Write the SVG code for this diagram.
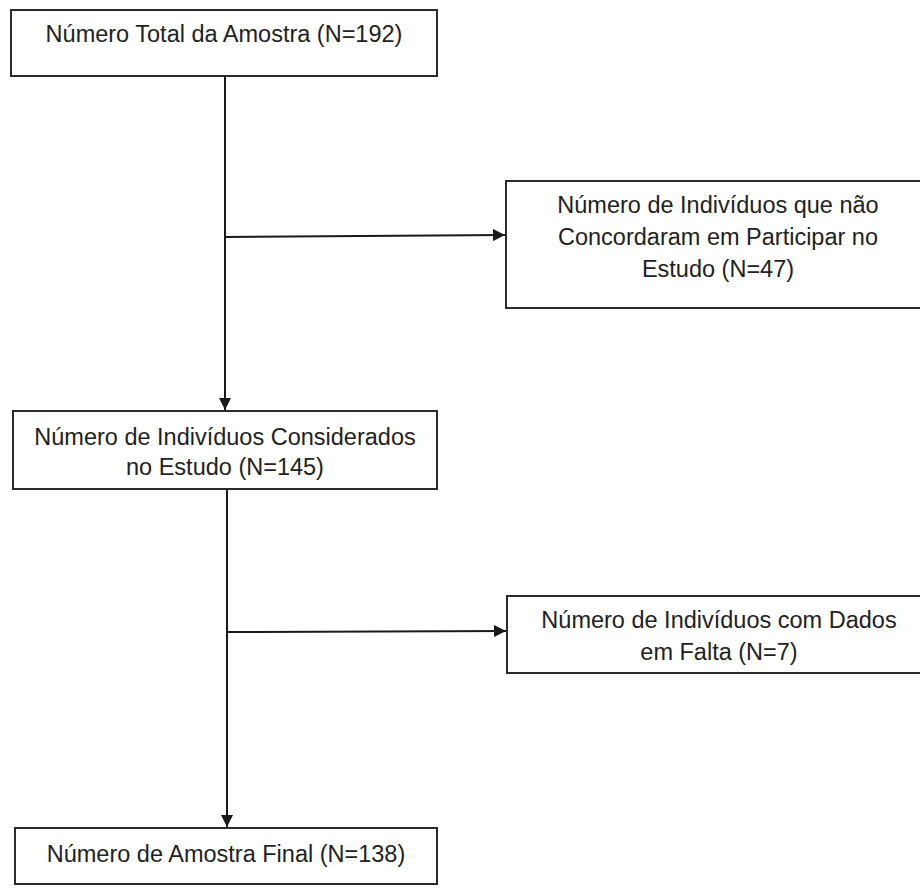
<svg xmlns="http://www.w3.org/2000/svg" width="920" height="891" viewBox="0 0 920 891">
  <defs>
    <style>
      .box { fill: #ffffff; stroke: #2b2b2b; stroke-width: 2; }
      .lbl { font-family: "Liberation Sans", Arial, sans-serif; font-size: 23.5px; fill: #222222; text-anchor: middle; }
      .conn { stroke: #1a1a1a; stroke-width: 2; fill: none; }
    </style>
    <marker id="arr" viewBox="0 0 10 10" refX="10" refY="5" markerWidth="6" markerHeight="6" markerUnits="strokeWidth" orient="auto">
      <path d="M0,0 L10,5 L0,10 Z" fill="#1a1a1a"/>
    </marker>
  </defs>
  <rect width="920" height="891" fill="#ffffff"/>

  <g id="connectors">
    <line class="conn" x1="225" y1="76" x2="225" y2="410" marker-end="url(#arr)"/>
    <line class="conn" x1="225" y1="237" x2="505" y2="235" marker-end="url(#arr)"/>
    <line class="conn" x1="227" y1="489" x2="227" y2="827" marker-end="url(#arr)"/>
    <line class="conn" x1="227" y1="632" x2="506" y2="631" marker-end="url(#arr)"/>
  </g>

  <g id="n1">
    <rect class="box" x="11" y="10" width="426" height="66"/>
    <text class="lbl" x="224" y="42">Número Total da Amostra (N=192)</text>
  </g>

  <g id="n2">
    <rect class="box" x="506" y="181" width="424" height="127"/>
    <text class="lbl" x="718" y="213">Número de Indivíduos que não</text>
    <text class="lbl" x="718" y="245">Concordaram em Participar no</text>
    <text class="lbl" x="718" y="277">Estudo (N=47)</text>
  </g>

  <g id="n3">
    <rect class="box" x="13" y="411" width="424" height="78"/>
    <text class="lbl" x="225" y="445">Número de Indivíduos Considerados</text>
    <text class="lbl" x="225" y="475">no Estudo (N=145)</text>
  </g>

  <g id="n4">
    <rect class="box" x="507" y="596" width="424" height="77"/>
    <text class="lbl" x="719" y="628">Número de Indivíduos com Dados</text>
    <text class="lbl" x="719" y="660">em Falta (N=7)</text>
  </g>

  <g id="n5">
    <rect class="box" x="15" y="828" width="422" height="56"/>
    <text class="lbl" x="226" y="862">Número de Amostra Final (N=138)</text>
  </g>
</svg>
